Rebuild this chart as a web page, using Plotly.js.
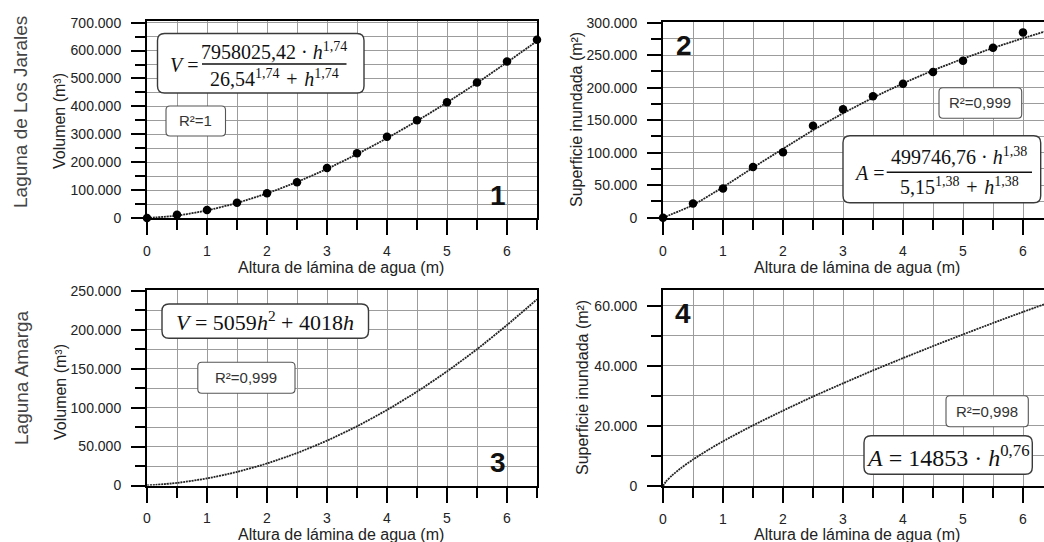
<!DOCTYPE html>
<html>
<head>
<meta charset="utf-8">
<script src="https://cdn.plot.ly/plotly-3.0.1.min.js"></script>
<style>html,body{margin:0;padding:0;background:#fff;}#chart{width:1044px;height:542px;}</style>
</head>
<body>
<div id="chart"></div>
<script>
// ---------------- DATA ----------------
const depthPts = [0, 0.5, 1, 1.5, 2, 2.5, 3, 3.5, 4, 4.5, 5, 5.5, 6, 6.5];
const volJaralesPts = [0, 12000, 28700, 55000, 88500, 128000, 179500, 232000, 291000, 350600, 415000, 486000, 561000, 639000];
const volJaralesFit = [0, 8500, 27000, 54000, 88000, 129000, 176000, 229000, 286000, 348000, 414000, 484000, 558000, 634000];

const depthPts2 = [0, 0.5, 1, 1.5, 2, 2.5, 3, 3.5, 4, 4.5, 5, 5.5, 6];
const supJaralesPts = [0, 22000, 45000, 78000, 100500, 141500, 166700, 186700, 206000, 224000, 241500, 261500, 285000];
const supJaralesFit = [0, 19500, 47000, 77000, 106000, 134500, 160500, 184500, 206500, 226500, 244500, 261000, 276000, 290000];

const volAmargaFit = [0, 3300, 9100, 17400, 28300, 41700, 57600, 76000, 97000, 120500, 146500, 175000, 206000, 239000];

const depthAmargaSup = [0, 0.05, 0.15, 0.3, 0.5, 0.75, 1, 1.5, 2, 2.5, 3, 3.5, 4, 4.5, 5, 5.5, 6, 6.5];
const supAmargaFit = [0, 1500, 3500, 6000, 8800, 12000, 14900, 20200, 25100, 29800, 34200, 38500, 42600, 46600, 50500, 54300, 58000, 61600];

const xTitle = 'Altura de lámina de agua (m)';
const yTitleVol = 'Volumen (m³)';
const yTitleSup = 'Superficie inundada (m²)';
const rowLabels = ['Laguna de Los Jarales', 'Laguna Amarga'];
const panelNumbers = ['1', '2', '3', '4'];
const r2Labels = ['R²=1', 'R²=0,999', 'R²=0,999', 'R²=0,998'];

// ---------------- HELPERS ----------------
const W = 1044, H = 542;
const fx = p => p / W;
const fy = p => 1 - p / H;
const SANS = 'Liberation Sans, Arial, sans-serif';
const SERIF = 'Liberation Serif, Times New Roman, serif';
const GRID = '#9c9c9c';

function xax(d0, d1, range, anchor) {
  return {
    domain: [fx(d0), Math.min(1, fx(d1))], range: range, anchor: anchor,
    showline: true, linecolor: '#000', linewidth: 2, mirror: true,
    ticks: 'outside', ticklen: 15, tickwidth: 2, tickcolor: '#000',
    tick0: 0, dtick: 1, showgrid: true, gridcolor: GRID, gridwidth: 1, zeroline: false,
    tickfont: {family: SANS, size: 14, color: '#222'}, ticklabelstandoff: 4,
    minor: {tick0: 0, dtick: 0.5, ticks: 'outside', ticklen: 10, tickwidth: 2, tickcolor: '#000',
            showgrid: true, gridcolor: GRID, gridwidth: 1},
    fixedrange: true
  };
}
function yax(top, bot, range, dtick, anchor, mirror) {
  return {
    domain: [fy(bot), fy(top)], range: range, anchor: anchor,
    showline: true, linecolor: '#000', linewidth: 2, mirror: mirror,
    ticks: 'outside', ticklen: 14, tickwidth: 2, tickcolor: '#000',
    tick0: 0, dtick: dtick, tickformat: ',d', showgrid: true, gridcolor: GRID, gridwidth: 1, zeroline: false,
    tickfont: {family: SANS, size: 14, color: '#222'}, ticklabelstandoff: 7,
    minor: {tick0: 0, dtick: dtick / 2, ticks: 'outside', ticklen: 10, tickwidth: 2, tickcolor: '#000',
            showgrid: true, gridcolor: GRID, gridwidth: 1},
    fixedrange: true
  };
}
function rrect(x0, y0, x1, y1, r, lw, col) {
  const p = `M ${fx(x0 + r)},${fy(y0)} L ${fx(x1 - r)},${fy(y0)} Q ${fx(x1)},${fy(y0)} ${fx(x1)},${fy(y0 + r)}` +
    ` L ${fx(x1)},${fy(y1 - r)} Q ${fx(x1)},${fy(y1)} ${fx(x1 - r)},${fy(y1)}` +
    ` L ${fx(x0 + r)},${fy(y1)} Q ${fx(x0)},${fy(y1)} ${fx(x0)},${fy(y1 - r)}` +
    ` L ${fx(x0)},${fy(y0 + r)} Q ${fx(x0)},${fy(y0)} ${fx(x0 + r)},${fy(y0)} Z`;
  return {type: 'path', xref: 'paper', yref: 'paper', path: p, fillcolor: '#fff',
          line: {color: col, width: lw}, layer: 'above'};
}
function bar(x0, x1, y) {
  return {type: 'line', xref: 'paper', yref: 'paper', x0: fx(x0), x1: fx(x1), y0: fy(y), y1: fy(y),
          line: {color: '#111', width: 1.4}, layer: 'above'};
}
function txt(text, x, y, opts) {
  opts = opts || {};
  return Object.assign({
    text: text, x: fx(x), y: fy(y), xref: 'paper', yref: 'paper', showarrow: false,
    xanchor: 'center', yanchor: 'middle',
    font: {family: SANS, size: 13, color: '#333'}
  }, opts);
}
const eqFont = {family: SERIF, size: 20, color: '#111'};
const eqFont3 = {family: SERIF, size: 22, color: '#111'};
const eqFont4 = {family: SERIF, size: 24, color: '#111'};
const numFont = {family: SANS, size: 28, color: '#111', weight: 'bold'};
const r2Font = {family: SANS, size: 15, color: '#333'};
const axTitleFont = {family: SANS, size: 16, color: '#222'};
const rowFont = {family: SANS, size: 19, color: '#444'};
const fitLine = {color: '#222', width: 1.8, dash: '2px,0.8px', shape: 'spline', smoothing: 0.6};

// ---------------- TRACES ----------------
const traces = [
  {x: depthPts, y: volJaralesFit, xaxis: 'x', yaxis: 'y', mode: 'lines', line: fitLine, hoverinfo: 'skip'},
  {x: depthPts, y: volJaralesPts, xaxis: 'x', yaxis: 'y', mode: 'markers', cliponaxis: false,
   marker: {color: '#000', size: 8.5}},
  {x: depthPts, y: supJaralesFit, xaxis: 'x2', yaxis: 'y2', mode: 'lines', line: fitLine, hoverinfo: 'skip'},
  {x: depthPts2, y: supJaralesPts, xaxis: 'x2', yaxis: 'y2', mode: 'markers', cliponaxis: false,
   marker: {color: '#000', size: 8.5}},
  {x: depthPts, y: volAmargaFit, xaxis: 'x3', yaxis: 'y3', mode: 'lines', line: fitLine, hoverinfo: 'skip'},
  {x: depthAmargaSup, y: supAmargaFit, xaxis: 'x4', yaxis: 'y4', mode: 'lines', line: fitLine, hoverinfo: 'skip'}
];

// ---------------- LAYOUT ----------------
const rightEdgeRange = (W - 663) / 60;
const layout = {
  width: W, height: H, margin: {l: 0, r: 0, t: 0, b: 0},
  paper_bgcolor: '#fff', plot_bgcolor: '#fff', showlegend: false,
  separators: ',.',
  xaxis: xax(147, 537, [0, 6.5], 'y'),
  yaxis: yax(21, 218, [0, 706000], 100000, 'x', true),
  xaxis2: xax(663, 1044, [0, rightEdgeRange], 'y2'),
  yaxis2: yax(22.3, 217.7, [0, 300500], 50000, 'x2', false),
  xaxis3: xax(147, 537, [0, 6.5], 'y3'),
  yaxis3: yax(290, 485.5, [0, 251000], 50000, 'x3', true),
  xaxis4: xax(663, 1044, [0, rightEdgeRange], 'y4'),
  yaxis4: yax(290, 486, [0, 65300], 20000, 'x4', false),
  shapes: [
    rrect(157.5, 33.5, 364, 93, 7, 1.4, '#3a3a3a'),
    rrect(166, 106, 225.5, 136, 4, 1.1, '#555'),
    bar(202, 346.5, 64),
    rrect(939, 87.7, 1021.7, 118.3, 4, 1.1, '#555'),
    rrect(843, 135.7, 1040.7, 202.7, 7, 1.4, '#3a3a3a'),
    bar(886.7, 1032, 172.3),
    rrect(162, 304, 368.5, 338.3, 7, 1.4, '#3a3a3a'),
    rrect(197.8, 362.3, 295, 393.3, 4, 1.1, '#555'),
    rrect(946, 395.7, 1028.3, 426.7, 4, 1.1, '#555'),
    rrect(864, 435.7, 1032.3, 474.3, 7, 1.4, '#3a3a3a')
  ],
  annotations: [
    // row labels
    txt(rowLabels[0], 21, 112, {textangle: -90, font: rowFont}),
    txt(rowLabels[1], 21, 378, {textangle: -90, font: rowFont}),
    // y titles
    txt(yTitleVol, 60, 121, {textangle: -90, font: axTitleFont}),
    txt(yTitleSup, 576, 120, {textangle: -90, font: axTitleFont}),
    txt(yTitleVol, 60, 392, {textangle: -90, font: axTitleFont}),
    txt(yTitleSup, 582, 388, {textangle: -90, font: axTitleFont}),
    // x titles
    txt(xTitle, 341, 267, {font: axTitleFont}),
    txt(xTitle, 857, 267, {font: axTitleFont}),
    txt(xTitle, 341, 534.5, {font: axTitleFont}),
    txt(xTitle, 857, 534.5, {font: axTitleFont}),
    // panel numbers
    txt(panelNumbers[0], 498, 195, {font: numFont}),
    txt(panelNumbers[1], 684, 46, {font: numFont}),
    txt(panelNumbers[2], 497.5, 462.5, {font: numFont}),
    txt(panelNumbers[3], 682.5, 313.5, {font: numFont}),
    // R2 boxes
    txt(r2Labels[0], 195.8, 121, {font: r2Font}),
    txt(r2Labels[1], 980.3, 103, {font: r2Font}),
    txt(r2Labels[2], 246.4, 377.8, {font: r2Font}),
    txt(r2Labels[3], 987.1, 411.2, {font: r2Font}),
    // equation 1
    txt('<i>V</i> =', 184, 64.5, {font: eqFont}),
    txt('7958025,42 · <i>h</i><sup>1,74</sup>', 274.3, 51, {font: eqFont}),
    txt('26,54<sup>1,74</sup>\u2004+\u2004<i>h</i><sup>1,74</sup>', 274.3, 78, {font: eqFont}),
    // equation 2
    txt('<i>A</i> =', 869, 172.7, {font: eqFont}),
    txt('499746,76 · <i>h</i><sup>1,38</sup>', 959.3, 156, {font: eqFont}),
    txt('5,15<sup>1,38</sup>\u2004+\u2004<i>h</i><sup>1,38</sup>', 959.3, 185.5, {font: eqFont}),
    // equation 3
    txt('<i>V</i> = 5059<i>h</i><sup>2</sup> + 4018<i>h</i>', 265, 321, {font: eqFont3}),
    // equation 4
    txt('<i>A</i> = 14853 · <i>h</i><sup>0,76</sup>', 947.5, 455.5, {font: eqFont4})
  ]
};

Plotly.newPlot('chart', traces, layout, {staticPlot: true, displayModeBar: false});
</script>
</body>
</html>
